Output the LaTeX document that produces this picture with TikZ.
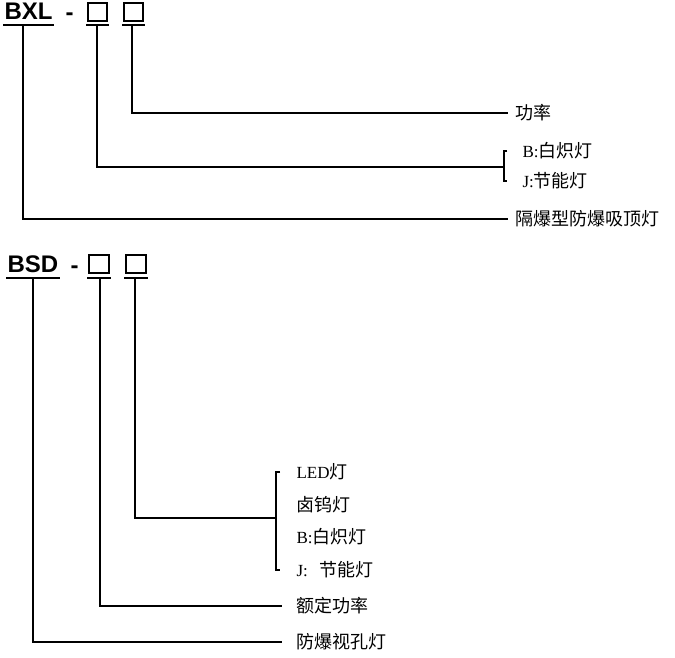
\documentclass[tikz,border=0pt]{standalone}
\usepackage{fontspec}
\setmainfont{Liberation Serif}
\newfontfamily\cjk{Noto Sans CJK SC}
\newfontfamily\codefont{Liberation Sans}
\newcommand{\zh}[1]{{\cjk\fontsize{18}{20}\selectfont #1}}
\begin{document}
\begin{tikzpicture}[
x=1pt,y=-1pt,
line width=1.1pt,
code/.style={font=\codefont\bfseries\fontsize{24}{26}\selectfont,inner xsep=1pt,inner ysep=0pt},
cell/.style={draw,line width=1.4pt,minimum width=19pt,minimum height=18pt,inner sep=0pt},
lbl/.style={anchor=west,inner sep=0pt,font=\fontsize{17}{20}\selectfont}
]
\useasboundingbox (0,0) rectangle (675,658);
% BXL
\node[code,anchor=base west] (bxl) at (3,20) {BXL};
\node[code,anchor=base west] (d1) at (64,21) {-};
\node[cell] (b1) at (97.5,12) {};
\node[cell] (b2) at (133.5,12) {};
\coordinate (u0) at (23,25);
\coordinate (u1) at (97,25);
\coordinate (u2) at (132,25);
\draw[line width=1.5pt] (bxl.west |- u0) -- (bxl.east |- u0);
\draw[line width=1.5pt] ([xshift=-1pt]b1.west |- u1) -- ([xshift=1pt]b1.east |- u1);
\draw[line width=1.5pt] ([xshift=-1pt]b2.west |- u2) -- ([xshift=1pt]b2.east |- u2);
\node[lbl] (gl) at (515,113) {\zh{功率}};
\node[lbl] (bz) at (522,151) {B:\zh{白炽灯}};
\node[lbl] (jn) at (522,181) {J:\zh{节能灯}};
\node[lbl] (xd) at (515,219) {\zh{隔爆型防爆吸顶灯}};
\coordinate (k1) at (504,167);
\draw (u2) |- ([xshift=-7pt]gl.west);
\draw (u1) |- (k1);
\draw ([xshift=3pt]k1 |- bz.west) -- (k1 |- bz.west) -- (k1 |- jn.west) -- ++(3,0);
\draw (u0) |- ([xshift=-7pt]xd.west);
% BSD
\node[code,anchor=base west] (bsd) at (6,272) {BSD};
\node[code,anchor=base west] (d2) at (69,273) {-};
\node[cell,minimum width=20pt] (b3) at (99,264) {};
\node[cell,minimum width=20pt] (b4) at (136,264) {};
\coordinate (u3) at (33,278);
\coordinate (u4) at (100,278);
\coordinate (u5) at (135,278);
\draw[line width=1.5pt] (bsd.west |- u3) -- (bsd.east |- u3);
\draw[line width=1.5pt] ([xshift=-1pt]b3.west |- u4) -- ([xshift=1pt]b3.east |- u4);
\draw[line width=1.5pt] ([xshift=-1pt]b4.west |- u5) -- ([xshift=1pt]b4.east |- u5);
\node[lbl] (led) at (296,472) {LED\zh{灯}};
\node[lbl] (lw) at (296,505) {\zh{卤钨灯}};
\node[lbl] (bz2) at (296,537) {B:\zh{白炽灯}};
\node[lbl] (jn2) at (296,570) {J:\hspace{12pt}\zh{节能灯}};
\node[lbl] (ed) at (296,606) {\zh{额定功率}};
\node[lbl] (sk) at (296,642) {\zh{防爆视孔灯}};
\coordinate (k2) at (276,518);
\draw (u5) |- (k2);
\draw ([xshift=4pt]k2 |- led.west) -- (k2 |- led.west) -- (k2 |- jn2.west) -- ++(4,0);
\draw (u4) |- ([xshift=-14pt]ed.west);
\draw (u3) |- ([xshift=-14pt]sk.west);
\end{tikzpicture}
\end{document}
